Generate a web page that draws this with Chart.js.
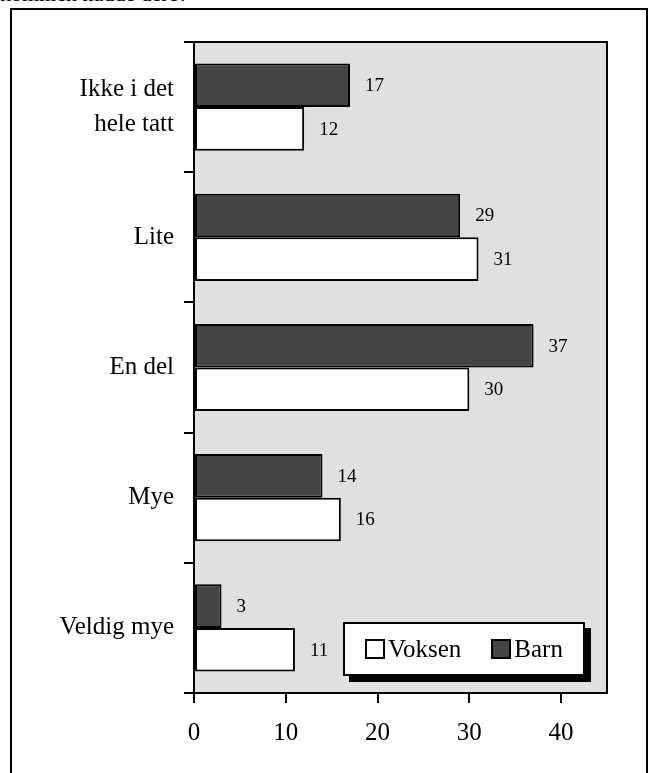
<!DOCTYPE html>
<html>
<head>
<meta charset="utf-8">
<script src="https://cdn.jsdelivr.net/npm/chart.js@4.4.0/dist/chart.umd.min.js"></script>
<style>
  body { margin: 0; background: #fff; }
  #wrap { position: relative; width: 650px; height: 773px; overflow: hidden; font-family: "Liberation Serif", "Times New Roman", serif; }
  #topText { position: absolute; left: 0; top: -16px; font-size: 22px; line-height: 20px; white-space: nowrap; }
  #frame { position: absolute; left: 10px; top: 8px; width: 638px; height: 820px; border: 2px solid #000; box-sizing: border-box; }
  #chart { position: absolute; left: 0; top: 0; }
  #legend { position: absolute; left: 343px; top: 622px; width: 242px; height: 54px; box-sizing: border-box;
            border: 2px solid #000; background: #fff; box-shadow: 6px 6px 0 #000;
            display: flex; align-items: center; justify-content: center; font-size: 25px; gap: 30px; }
  .item { display: flex; align-items: center; }
  .sw { width: 16px; height: 16px; border: 2px solid #000; margin-right: 3px; }
</style>
</head>
<body>
<div id="wrap">
  <div id="topText">kommen hadde dere?</div>
  <div id="frame"></div>
  <canvas id="chart" width="650" height="773"></canvas>
  <div id="legend"></div>
</div>
<script>
// Kategorier og verdier
const categories = [['Ikke i det', 'hele tatt'], 'Lite', 'En del', 'Mye', 'Veldig mye'];
const barnValues = [17, 29, 37, 14, 3];
const voksenValues = [12, 31, 30, 16, 11];
const xTicks = [0, 10, 20, 30, 40];

const darkFill = '#444444';
const plotBg = '#e0e0e0';
const serif = '"Liberation Serif", "Times New Roman", serif';

// Bakgrunn og ramme rundt plottområdet
const plotFrame = {
    id: 'plotFrame',
    beforeDraw(chart) {
        const a = chart.chartArea, ctx = chart.ctx;
        ctx.save();
        ctx.fillStyle = plotBg;
        ctx.fillRect(a.left, a.top, a.right - a.left, a.bottom - a.top);
        ctx.restore();
    },
    afterDraw(chart) {
        const a = chart.chartArea, ctx = chart.ctx;
        ctx.save();
        ctx.strokeStyle = '#000';
        ctx.lineWidth = 2;
        ctx.strokeRect(a.left, a.top, a.right - a.left, a.bottom - a.top);
        ctx.restore();
    }
};

// Verdier til høyre for stolpene
const valueLabels = {
    id: 'valueLabels',
    afterDatasetsDraw(chart) {
        const ctx = chart.ctx;
        ctx.save();
        ctx.font = '19px ' + serif;
        ctx.fillStyle = '#000';
        ctx.textAlign = 'left';
        ctx.textBaseline = 'middle';
        chart.data.datasets.forEach((ds, i) => {
            chart.getDatasetMeta(i).data.forEach((bar, j) => {
                ctx.fillText(ds.data[j], bar.x + 15, bar.y + 1);
            });
        });
        ctx.restore();
    }
};

const chart = new Chart(document.getElementById('chart'), {
    type: 'bar',
    data: {
        labels: categories,
        datasets: [
            { label: 'Barn', data: barnValues, backgroundColor: darkFill, borderColor: '#000', borderWidth: 2, borderSkipped: false },
            { label: 'Voksen', data: voksenValues, backgroundColor: '#ffffff', borderColor: '#000', borderWidth: 2, borderSkipped: false }
        ]
    },
    options: {
        indexAxis: 'y',
        responsive: false,
        animation: false,
        categoryPercentage: 0.67,
        barPercentage: 1,
        layout: { padding: { left: 0, top: 42, right: 43, bottom: 0 } },
        plugins: {
            legend: { display: false },
            tooltip: { enabled: false }
        },
        scales: {
            x: {
                min: 0,
                max: 45,
                afterFit: s => { s.height = 80; },
                afterBuildTicks: s => { s.ticks = s.ticks.filter(t => xTicks.includes(t.value)); },
                ticks: { stepSize: 10, color: '#000', padding: 15, font: { family: serif, size: 25 } },
                grid: { drawOnChartArea: false, tickLength: 10, color: '#000', lineWidth: 2 },
                border: { display: true, color: '#000', width: 2 }
            },
            y: {
                afterFit: s => { s.width = 194; },
                ticks: { color: '#000', padding: 10, font: { family: serif, size: 25, lineHeight: 1.4 } },
                grid: { drawOnChartArea: false, tickLength: 10, color: '#000', lineWidth: 2 },
                border: { display: true, color: '#000', width: 2 }
            }
        }
    },
    plugins: [plotFrame, valueLabels]
});

// Forklaring: Voksen først, så Barn
const legend = document.getElementById('legend');
chart.data.datasets.slice().reverse().forEach(ds => {
    const item = document.createElement('div');
    item.className = 'item';
    item.innerHTML = '<span class="sw" style="background:' + ds.backgroundColor + '"></span>' + ds.label;
    legend.appendChild(item);
});
</script>
</body>
</html>
